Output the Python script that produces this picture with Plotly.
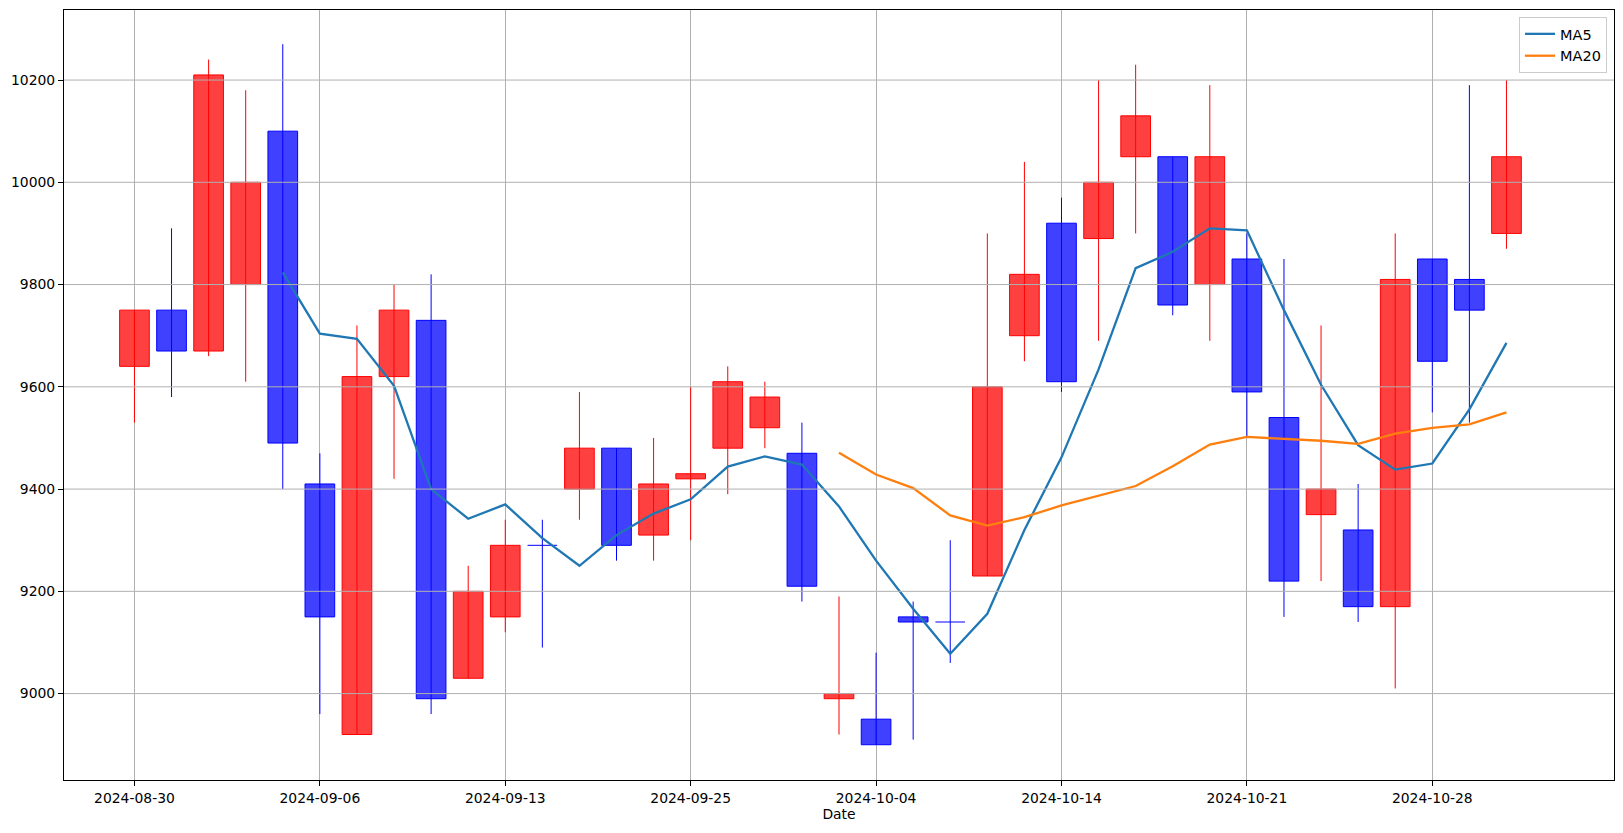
import plotly.graph_objects as go

dates = ["2024-08-30", "2024-09-02", "2024-09-03", "2024-09-04", "2024-09-05",
         "2024-09-06", "2024-09-09", "2024-09-10", "2024-09-11", "2024-09-12",
         "2024-09-13", "2024-09-19", "2024-09-20", "2024-09-23", "2024-09-24",
         "2024-09-25", "2024-09-26", "2024-09-27", "2024-09-30", "2024-10-02",
         "2024-10-04", "2024-10-07", "2024-10-08", "2024-10-10", "2024-10-11",
         "2024-10-14", "2024-10-15", "2024-10-16", "2024-10-17", "2024-10-18",
         "2024-10-21", "2024-10-22", "2024-10-23", "2024-10-24", "2024-10-25",
         "2024-10-28", "2024-10-29", "2024-10-30"]
opens = [9640, 9750, 9670, 9800, 10100, 9410, 8920, 9620, 9730, 9030,
         9150, 9290, 9400, 9480, 9310, 9420, 9480, 9520, 9470, 8990,
         8950, 9150, 9140, 9230, 9700, 9920, 9890, 10050, 10050, 9800,
         9850, 9540, 9350, 9320, 9170, 9850, 9810, 9900]
highs = [9750, 9910, 10240, 10180, 10270, 9470, 9720, 9800, 9820, 9250,
         9340, 9340, 9590, 9480, 9500, 9600, 9640, 9610, 9530, 9190,
         9080, 9180, 9300, 9900, 10040, 9970, 10200, 10230, 10050, 10190,
         9900, 9850, 9720, 9410, 9900, 9850, 10190, 10200]
lows = [9530, 9580, 9660, 9610, 9400, 8960, 8920, 9420, 8960, 9030,
        9120, 9090, 9340, 9260, 9260, 9300, 9390, 9480, 9180, 8920,
        8900, 8910, 9060, 9230, 9650, 9590, 9690, 9900, 9740, 9690,
        9500, 9150, 9220, 9140, 9010, 9550, 9530, 9870]
closes = [9750, 9670, 10210, 10000, 9490, 9150, 9620, 9750, 8990, 9200,
          9290, 9290, 9480, 9290, 9410, 9430, 9610, 9580, 9210, 9000,
          8900, 9140, 9140, 9600, 9820, 9610, 10000, 10130, 9760, 10050,
          9590, 9220, 9400, 9170, 9810, 9650, 9750, 10050]
ma5 = [None, None, None, None,
       9824, 9704, 9694, 9602, 9400, 9342, 9370, 9304, 9250, 9310,
       9352, 9380, 9444, 9464, 9448, 9366, 9260, 9166, 9078, 9156,
       9320, 9462, 9634, 9832, 9864, 9910, 9906, 9750, 9604, 9486,
       9438, 9450, 9556, 9686]
ma20 = [None] * 19 + [9471, 9428.5, 9402, 9348.5, 9328.5, 9345, 9368, 9387,
                      9406, 9444.5, 9487, 9502, 9498.5, 9494.5, 9488.5,
                      9508.5, 9519.5, 9526.5, 9550]
y_ticks = [9000, 9200, 9400, 9600, 9800, 10000, 10200]

FONT = "DejaVu Sans"
xs = list(range(len(dates)))
is_up = [c > o for o, c in zip(opens, closes)]

fig = go.Figure()

groups = [(True, "red", "rgba(255,0,0,0.75)"), (False, "blue", "rgba(0,0,255,0.75)")]
# bodies
for up, col, fill in groups:
    idx = [i for i in xs if is_up[i] == up and closes[i] != opens[i]]
    fig.add_trace(go.Bar(
        x=idx,
        base=[min(opens[i], closes[i]) for i in idx],
        y=[abs(closes[i] - opens[i]) for i in idx],
        width=0.8,
        marker=dict(color=fill, line=dict(color=col, width=1)),
        showlegend=False, hoverinfo="skip"))
# wicks and doji bodies
for up, col, fill in groups:
    idx = [i for i in xs if is_up[i] == up]
    wx, wy = [], []
    for i in idx:
        wx += [i, i, None]
        wy += [lows[i], highs[i], None]
    fig.add_trace(go.Scatter(x=wx, y=wy, mode="lines",
                             line=dict(color=col, width=1),
                             showlegend=False, hoverinfo="skip"))
    dx, dy = [], []
    for i in idx:
        if closes[i] == opens[i]:
            dx += [i - 0.4, i + 0.4, None]
            dy += [closes[i], closes[i], None]
    if dx:
        fig.add_trace(go.Scatter(x=dx, y=dy, mode="lines",
                                 line=dict(color=col, width=1),
                                 showlegend=False, hoverinfo="skip"))

fig.add_trace(go.Scatter(x=xs, y=ma5, mode="lines", name="MA5",
                         line=dict(color="#1f77b4", width=2.3)))
fig.add_trace(go.Scatter(x=xs, y=ma20, mode="lines", name="MA20",
                         line=dict(color="#ff7f0e", width=2.3)))

for v in y_ticks:
    fig.add_shape(type="line", xref="paper", x0=0, x1=1, yref="y", y0=v, y1=v,
                  line=dict(color="#b0b0b0", width=1), layer="above")

tick_idx = xs[::5]
fig.update_layout(
    width=1623, height=833,
    margin=dict(l=64, r=9, t=10, b=53),
    paper_bgcolor="white", plot_bgcolor="white",
    barmode="overlay",
    font=dict(family=FONT, size=13.9, color="black"),
    showlegend=True,
    legend=dict(x=0.9955, y=0.991, xanchor="right", yanchor="top",
                bgcolor="rgba(255,255,255,0.8)", bordercolor="#cccccc",
                borderwidth=1, font=dict(family=FONT, size=14.5),
                tracegroupgap=0, itemwidth=30),
    xaxis=dict(range=[-1.9, 39.9], tickmode="array", tickvals=tick_idx,
               ticktext=[dates[i] for i in tick_idx],
               showgrid=True, gridcolor="#b0b0b0", gridwidth=1,
               showline=True, linecolor="black", linewidth=1, mirror=True,
               ticks="outside", ticklen=5, tickcolor="black", zeroline=False,
               title=dict(text="Date", standoff=4, font=dict(family=FONT, size=13.9))),
    yaxis=dict(range=[8831, 10337], tickmode="array", tickvals=y_ticks,
               tickformat="d", showgrid=False,
               showline=True, linecolor="black", linewidth=1, mirror=True,
               ticks="outside", ticklen=5, tickcolor="black", zeroline=False),
)

fig.write_html("out.html", config={"displayModeBar": False},
               post_script="document.body.style.margin='0';document.body.style.overflow='hidden';")
